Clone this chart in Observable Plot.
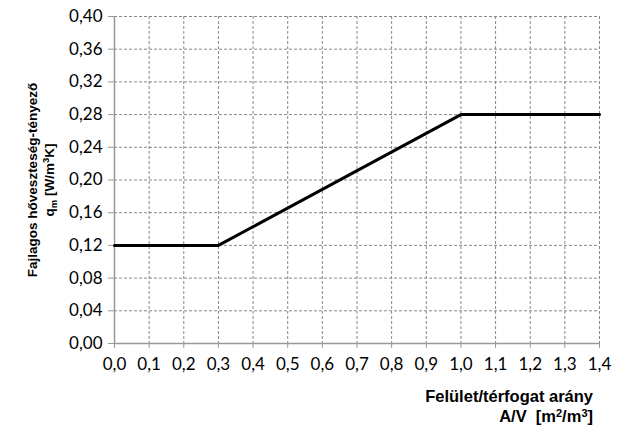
<!DOCTYPE html>
<html><head><meta charset="utf-8">
<script src="https://cdn.jsdelivr.net/npm/d3@7"></script>
<script src="https://cdn.jsdelivr.net/npm/@observablehq/plot@0.6"></script>
<style>
body{margin:0;background:#fff}
#chart svg g[aria-label$="tick label"] text{font-size:17px !important;font-family:Lato,"Open Sans",sans-serif !important;}
</style>
</head><body><div id="chart"></div>
<script>
const ratioAV = [0.0, 0.3, 1.0, 1.4];
const qm = [0.12, 0.12, 0.28, 0.28];
const xTicks = [0,0.1,0.2,0.3,0.4,0.5,0.6,0.7,0.8,0.9,1.0,1.1,1.2,1.3,1.4];
const yTicks = [0,0.04,0.08,0.12,0.16,0.20,0.24,0.28,0.32,0.36,0.40];
const data = ratioAV.map((x,i)=>({x, y: qm[i]}));
const loc = d3.formatLocale({decimal:",", thousands:" ", grouping:[3], currency:["",""]});
const fx = loc.format(".1f"), fy = loc.format(".2f");
const W = 618, H = 426;
const chart = Plot.plot({
  width: W, height: H,
  marginLeft: 114, marginRight: 19, marginTop: 16, marginBottom: 83,
  style: {fontFamily: "Lato, sans-serif", fontSize: "17px", color: "#000", background: "#fff"},
  x: {domain: [0, 1.4]},
  y: {domain: [0, 0.4]},
  marks: [
    Plot.gridX(xTicks.slice(1), {stroke: "#888", strokeOpacity: 1, strokeDasharray: "3,2"}),
    Plot.gridY(yTicks.slice(1), {stroke: "#888", strokeOpacity: 1, strokeDasharray: "3,2"}),
    Plot.ruleX([0], {stroke: "#999", strokeWidth: 1.5}),
    Plot.ruleY([0], {stroke: "#999", strokeWidth: 1.5}),
    Plot.axisX(xTicks, {tickFormat: fx, label: null, tickSize: 5, stroke: "#999", tickPadding: 9, fill: "#000", fontSize: 17}),
    Plot.axisY(yTicks, {tickFormat: fy, label: null, tickSize: 6, stroke: "#999", tickPadding: 6, fill: "#000", fontSize: 17}),
    Plot.line(data, {x: "x", y: "y", stroke: "#000", strokeWidth: 3})
  ]
});
document.getElementById("chart").append(chart);
const svg = d3.select(chart);
const tf = "'Liberation Sans', Arial, sans-serif";
// x axis title
const xt = svg.append("text").attr("text-anchor","end").style("font-family",tf).attr("font-weight","bold").style("font-size","16.5px").attr("fill","#000");
xt.append("tspan").attr("x",593).attr("y",402).text("Felület/térfogat arány");
const t2 = xt.append("tspan").attr("x",593).attr("y",421.5);
t2.append("tspan").text("A/V  [m");
t2.append("tspan").style("font-size","11px").attr("dy",-5).text("2");
t2.append("tspan").style("font-size","16.5px").attr("dy",5).text("/m");
t2.append("tspan").style("font-size","11px").attr("dy",-5).text("3");
t2.append("tspan").style("font-size","16.5px").attr("dy",5).text("]");
// y axis title
const yt = svg.append("g").attr("transform","translate(0,180) rotate(-90)");
const y1 = yt.append("text").attr("text-anchor","middle").style("font-family",tf).attr("font-weight","bold").style("font-size","13.5px").attr("fill","#000").attr("y",37).text("Fajlagos hőveszteség-tényező");
const y2 = yt.append("text").attr("text-anchor","middle").style("font-family",tf).attr("font-weight","bold").style("font-size","13.5px").attr("fill","#000").attr("y",54);
y2.append("tspan").text("q");
y2.append("tspan").style("font-size","9.5px").attr("dy",3).text("m");
y2.append("tspan").style("font-size","13.5px").attr("dy",-3).text(" [W/m");
y2.append("tspan").style("font-size","9.5px").attr("dy",-5).text("3");
y2.append("tspan").style("font-size","13.5px").attr("dy",5).text("K]");
</script></body></html>
